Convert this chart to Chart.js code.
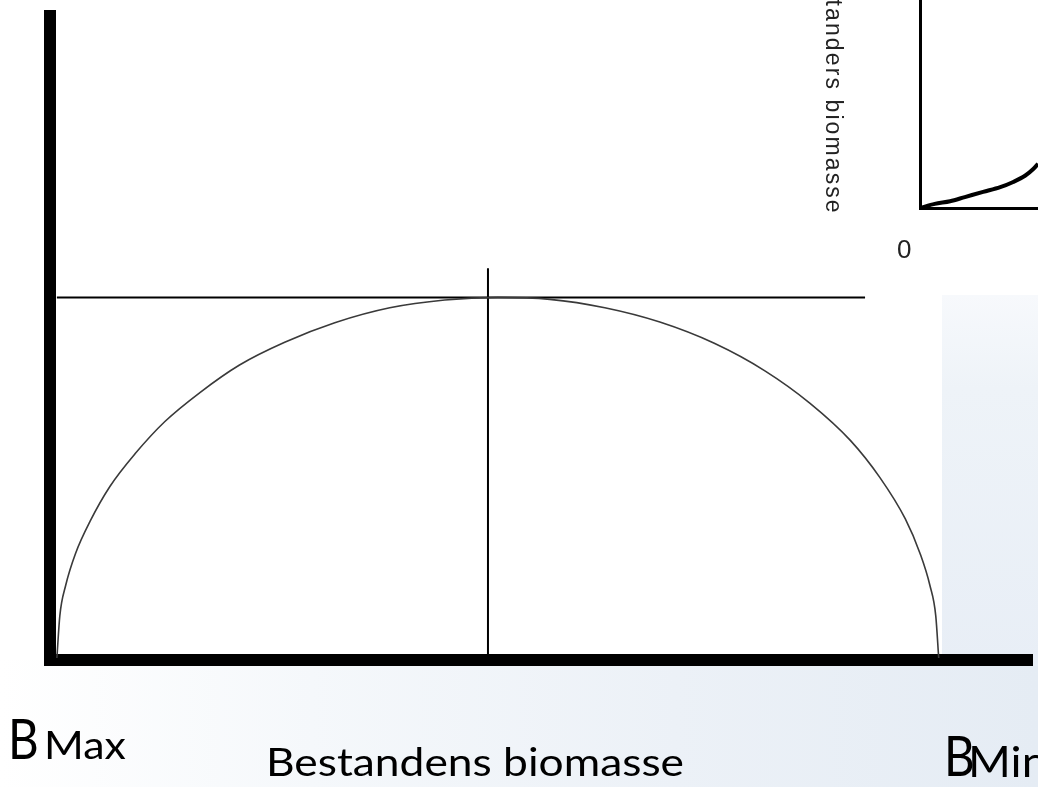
<!DOCTYPE html>
<html>
<head>
<meta charset="utf-8">
<script src="https://cdn.jsdelivr.net/npm/chart.js@4.4.1/dist/chart.umd.min.js"></script>
<style>
html,body{margin:0;padding:0;width:1038px;height:787px;overflow:hidden;}
body{position:relative;background:linear-gradient(to right,#ffffff 0%,#f5f8fb 30%,#ecf1f7 65%,#e5ecf4 100%);}
.abs{position:absolute;}
#panel{left:0;top:0;width:942px;height:660px;background:#ffffff;}
#insetBg{left:942px;top:0;width:96px;height:295px;background:#ffffff;}
#strip{left:942px;top:295px;width:96px;height:371px;background:linear-gradient(to bottom,#f7f9fc 0%,#eef3f8 25%,#e8eef6 100%);}
.lbl{position:absolute;white-space:nowrap;line-height:1;color:#000;font-family:Lato,"Open Sans",sans-serif;transform-origin:0 0;}
.small{position:absolute;white-space:nowrap;line-height:1;color:#222;font-family:"Liberation Sans",Arial,sans-serif;transform-origin:0 0;}
canvas{position:absolute;}
</style>
</head>
<body>
<div id="panel" class="abs"></div>
<div id="insetBg" class="abs"></div>
<div id="strip" class="abs"></div>
<canvas id="inset" width="133" height="225" style="left:905px;top:0px;width:133px;height:225px;"></canvas>
<canvas id="main" width="1038" height="787" style="left:0;top:0;width:1038px;height:787px;"></canvas>

<div id="bmaxB" class="lbl" style="left:8px;top:710px;font-size:56px;transform:scaleX(0.85);"></div>
<div id="bmaxS" class="lbl" style="left:44px;top:725px;font-size:39px;transform:scaleX(1.1);"></div>
<div id="axisTitle" class="lbl" style="left:266px;top:742px;font-size:38px;"></div>
<div id="bminB" class="lbl" style="left:944px;top:727px;font-size:56px;transform:scaleX(0.85);"></div>
<div id="bminS" class="lbl" style="left:968px;top:740px;font-size:42px;transform:scaleX(1.1);"></div>
<div id="insetTitle" class="small" style="left:845px;top:-14px;font-size:23px;letter-spacing:2.1px;transform:rotate(90deg);"></div>
<div id="insetZero" class="small" style="left:897px;top:236px;font-size:26px;"></div>

<script>
// ---- Text labels ----
const symbolB = 'B';
const maxSuffix = 'Max';
const minSuffix = 'Min';
const xAxisTitle = 'Bestandens biomasse';
const insetAxisTitle = 'standers biomasse';
const insetZeroTick = '0';

// ---- Main chart: surplus production curve (x: biomass, y: production) ----
const curveX = [0.7, 1.0, 1.6, 2.6, 4.1, 6.1, 8.7, 11.7, 15.3, 19.3, 23.9, 29.0, 34.6, 40.2, 45.6, 50.9, 56.5, 62.1, 67.7, 72.8, 77.4, 81.5, 84.5, 87.1, 88.6, 89.6, 90.2, 90.5];
const curveY = [0.3, 6.8, 11.5, 16.4, 21.4, 26.7, 31.8, 36.7, 41.2, 45.4, 48.9, 51.9, 54.2, 55.4, 55.8, 55.5, 54.2, 52.0, 48.7, 44.5, 39.5, 33.8, 28.1, 21.7, 16.4, 11.5, 6.8, 0.3];

// Horizontal reference line (maximum production)
const maxLineX = [0.7, 83.0];
const maxLineY = [55.8, 55.8];

// Vertical reference line (biomass at maximum)
const midLineX = [44.6, 44.6];
const midLineY = [60.3, 0];

// ---- Inset chart (cut-off growth curve) ----
const insetX = [0, 2.5, 5.1, 7.6, 10.7, 13.6, 15.8, 17.8, 19.2, 20];
const insetY = [0, 0.8, 1.3, 2.1, 3.1, 4.0, 5.0, 6.2, 7.5, 8.5];

function pts(xs, ys){ return xs.map((x,i)=>({x:x, y:ys[i]})); }

document.getElementById('bmaxB').textContent = symbolB;
document.getElementById('bmaxS').textContent = maxSuffix;
document.getElementById('bminB').textContent = symbolB;
document.getElementById('bminS').textContent = minSuffix;
document.getElementById('axisTitle').textContent = xAxisTitle;
document.getElementById('insetTitle').textContent = insetAxisTitle;
document.getElementById('insetZero').textContent = insetZeroTick;

function fitTitle(){
  const el = document.getElementById('axisTitle');
  el.style.transform = 'none';
  const w = el.getBoundingClientRect().width;
  if (w > 0) el.style.transform = 'scaleX(' + (418 / w) + ')';
}
fitTitle();
if (document.fonts && document.fonts.ready) document.fonts.ready.then(fitTitle);

const hiddenScale = (min, max, bw) => ({
  type: 'linear', min: min, max: max,
  ticks: {display: false},
  grid: {display: false, drawTicks: false},
  border: {display: true, width: bw, color: '#000000'}
});

new Chart(document.getElementById('main').getContext('2d'), {
  type: 'scatter',
  data: {
    datasets: [
      {data: pts(curveX, curveY), showLine: true, borderColor: '#3a3a3a', borderWidth: 1.6, pointRadius: 0, cubicInterpolationMode: 'monotone', fill: false},
      {data: pts(maxLineX, maxLineY), showLine: true, borderColor: '#000000', borderWidth: 2, pointRadius: 0},
      {data: pts(midLineX, midLineY), showLine: true, borderColor: '#000000', borderWidth: 2, pointRadius: 0}
    ]
  },
  options: {
    responsive: false,
    animation: false,
    events: [],
    layout: {padding: {left: 50, top: 16, right: 6, bottom: 127}},
    plugins: {legend: {display: false}, tooltip: {enabled: false}},
    scales: {x: hiddenScale(0, 100, 12), y: hiddenScale(0, 99.1, 12)}
  }
});

new Chart(document.getElementById('inset').getContext('2d'), {
  type: 'scatter',
  data: {
    datasets: [
      {data: pts(insetX, insetY), showLine: true, borderColor: '#000000', borderWidth: 4, pointRadius: 0, cubicInterpolationMode: 'monotone'}
    ]
  },
  options: {
    responsive: false,
    animation: false,
    events: [],
    layout: {padding: {left: 15, top: 0, right: 0, bottom: 17}},
    plugins: {legend: {display: false}, tooltip: {enabled: false}},
    scales: {x: hiddenScale(0, 20, 3), y: hiddenScale(0, 40, 3)}
  }
});
</script>
</body>
</html>
